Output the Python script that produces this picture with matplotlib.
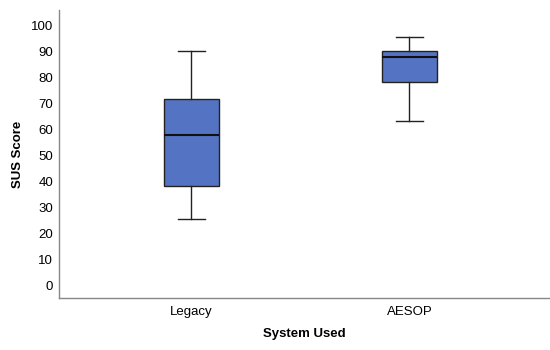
import matplotlib
matplotlib.use("Agg")
import matplotlib.pyplot as plt

categories = ["Legacy", "AESOP"]
whislo = [25.8, 63.2]
q1 = [38.5, 78.2]
med = [58.0, 88.0]
q3 = [71.8, 90.4]
whishi = [90.4, 95.5]
yticks = list(range(0, 101, 10))

plt.rcParams['font.family'] = ['Liberation Sans', 'DejaVu Sans']

fig = plt.figure(figsize=(5.5, 3.5), dpi=100)
ax = fig.add_axes([0.107, 0.149, 0.893, 0.822])

stats = []
for i, c in enumerate(categories):
    stats.append(dict(label=c, whislo=whislo[i], q1=q1[i], med=med[i], q3=q3[i], whishi=whishi[i], fliers=[]))

ax.bxp(stats, positions=[1, 2], widths=0.252, patch_artist=True, showfliers=False,
       boxprops=dict(facecolor="#5473C3", edgecolor="#222222", linewidth=1.0),
       medianprops=dict(color="#111111", linewidth=1.5),
       whiskerprops=dict(color="#222222", linewidth=1.0),
       capprops=dict(color="#222222", linewidth=1.0),
       capwidths=0.124)

ax.set_xlim(0.392, 2.645)
ax.set_ylim(-4.6, 106)
ax.set_yticks(yticks)
ax.set_yticklabels([str(v) for v in yticks])
ax.tick_params(axis='y', length=0, labelsize=9.5, pad=4)
ax.tick_params(axis='x', length=0, labelsize=9.5, pad=6)
for s in ["top", "right"]:
    ax.spines[s].set_visible(False)
for s in ["left", "bottom"]:
    ax.spines[s].set_color("#888888")
    ax.spines[s].set_linewidth(1.0)
ax.set_ylabel("SUS Score", fontsize=9.5, fontweight="bold", labelpad=5)
ax.set_xlabel("System Used", fontsize=9.5, fontweight="bold", labelpad=7)

fig.savefig("out.png", dpi=100)
